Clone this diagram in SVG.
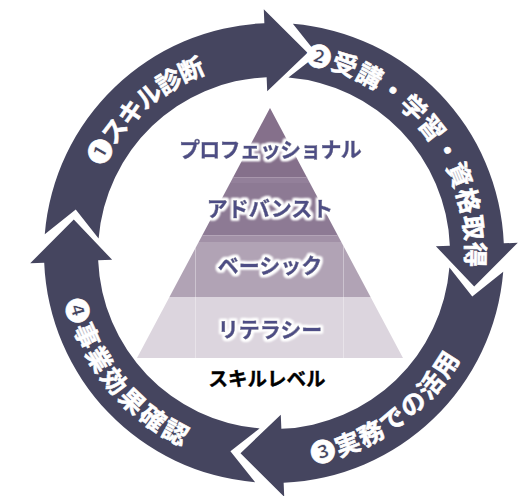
<svg xmlns="http://www.w3.org/2000/svg" xmlns:xlink="http://www.w3.org/1999/xlink" width="529" height="496" viewBox="0 0 529 496">
<style>
.seg{fill:#45455f}
.rt{fill:#ffffff;stroke:#ffffff;stroke-width:0.6px;font-family:"Noto Sans CJK JP","Noto Sans",sans-serif;font-weight:bold;font-size:25px;dominant-baseline:central}
.pt{fill:#4e4e85;stroke:#4e4e85;stroke-width:0.5px;font-family:"Noto Sans CJK JP","Noto Sans",sans-serif;font-weight:bold;font-size:21px;text-anchor:middle;dominant-baseline:central}
.lbl{fill:#000000;stroke:#000000;stroke-width:0.4px;font-family:"Noto Sans CJK JP","Noto Sans",sans-serif;font-weight:bold;font-size:19.5px;text-anchor:middle;dominant-baseline:central}
.vl{stroke:#ffffff;stroke-opacity:0.35;stroke-width:1}
</style>
<defs>
<path id="segShape" d="M44.77,234.15 A230,230 0 0 1 264.37,23.20 L263.78,9.21 L307.50,52.78 L267.22,91.14 L266.63,77.15 A176,176 0 0 0 98.59,238.58 L75.74,209.41 Z"/>
<path id="tp1" d="M85.8,329 A203,203 0 0 1 369.3,73.8"/>
<path id="tp2" d="M211.3,59.9 A203,203 0 0 1 446.2,360.6"/>
<path id="tp3" d="M159.0,420.3 A203,203 0 0 0 469.6,198.8"/>
<path id="tp4" d="M100,148.4 A203,203 0 0 0 340.1,444.9"/>
<clipPath id="pyr"><polygon points="270,108 403,358 137,358"/></clipPath>
<filter id="glow" x="-10%" y="-40%" width="120%" height="180%">
<feMorphology in="SourceAlpha" operator="dilate" radius="1.5" result="d"/>
<feGaussianBlur in="d" stdDeviation="1.1" result="b"/>
<feFlood flood-color="#ffffff"/>
<feComposite in2="b" operator="in" result="w"/>
<feMerge><feMergeNode in="w"/><feMergeNode in="w"/><feMergeNode in="SourceGraphic"/></feMerge>
</filter>
</defs>

<g id="pyramid">
<g clip-path="url(#pyr)">
<rect x="130" y="100" width="280" height="78" fill="#85708b"/>
<rect x="130" y="177" width="280" height="6" fill="#93809a"/>
<line x1="130" y1="177.5" x2="410" y2="177.5" stroke="#a896ac" stroke-width="1"/>
<rect x="130" y="183" width="280" height="52" fill="#8d7a94"/>
<rect x="130" y="235" width="280" height="7" fill="#a291a7"/>
<line x1="130" y1="235.5" x2="410" y2="235.5" stroke="#b3a4b7" stroke-width="1"/>
<rect x="130" y="242" width="280" height="55" fill="#b1a3b5"/>
<rect x="130" y="297" width="280" height="61" fill="#dcd5de"/>
<line class="vl" x1="195.5" y1="242" x2="195.5" y2="358"/>
<line class="vl" x1="343.5" y1="242" x2="343.5" y2="358"/>
</g>
<g filter="url(#glow)">
<text class="pt" x="270" y="148" letter-spacing="-0.8">プロフェッショナル</text>
<text class="pt" x="270" y="207">アドバンスト</text>
<text class="pt" x="270" y="264">ベーシック</text>
<text class="pt" x="270" y="328">リテラシー</text>
</g>
<text class="lbl" x="267" y="377">スキルレベル</text>
</g>

<g id="step1">
<use xlink:href="#segShape" class="seg"/>
<text class="rt" letter-spacing="0"><textPath xlink:href="#tp1" startOffset="50%" text-anchor="middle">❶スキル診断</textPath></text>
</g>
<g id="step2">
<use xlink:href="#segShape" class="seg" transform="rotate(90 274 253)"/>
<text class="rt" letter-spacing="2.5"><textPath xlink:href="#tp2" startOffset="50%" text-anchor="middle">❷受講・学習・資格取得</textPath></text>
</g>
<g id="step3">
<use xlink:href="#segShape" class="seg" transform="rotate(180 274 253)"/>
<text class="rt" letter-spacing="0.5"><textPath xlink:href="#tp3" startOffset="50%" text-anchor="middle">❸実務での活用</textPath></text>
</g>
<g id="step4">
<use xlink:href="#segShape" class="seg" transform="rotate(270 274 253)"/>
<text class="rt" letter-spacing="1.5"><textPath xlink:href="#tp4" startOffset="50%" text-anchor="middle">❹事業効果確認</textPath></text>
</g>
</svg>
